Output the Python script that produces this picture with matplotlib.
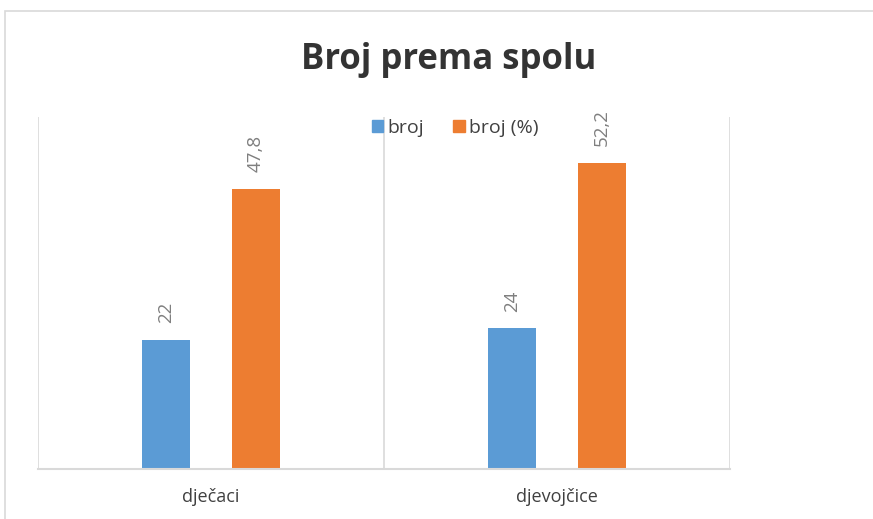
import matplotlib.pyplot as plt
from matplotlib.patches import Rectangle, Patch
import numpy as np

categories = ["dječaci", "djevojčice"]
broj = [22, 24]
broj_pct = [47.8, 52.2]
broj_labels = ["22", "24"]
pct_labels = ["47,8", "52,2"]
series_names = ["broj", "broj (%)"]

BLUE = "#5B9BD5"
ORANGE = "#ED7D31"
GRID = "#D9D9D9"
LABEL = "#7F7F7F"
TEXT = "#404040"

plt.rcParams["font.family"] = ["Open Sans", "DejaVu Sans"]

fig = plt.figure(figsize=(8.73, 5.19), dpi=100)
fig.patches.append(Rectangle((5 / 873, -0.1), 1.2, 1 - 11 / 519 + 0.1,
                             transform=fig.transFigure, fill=False,
                             edgecolor=GRID, linewidth=1.2))

ax = fig.add_axes([38 / 873, 1 - 469 / 519, (730 - 38) / 873, (469 - 117) / 519])

x = np.arange(len(categories))
w = 0.136
off = 0.13
b1 = ax.bar(x - off, broj, w, color=BLUE)
b2 = ax.bar(x + off, broj_pct, w, color=ORANGE)

for rects, labels in ((b1, broj_labels), (b2, pct_labels)):
    for r, lab in zip(rects, labels):
        ax.annotate(lab, (r.get_x() + r.get_width() / 2, r.get_height()),
                    xytext=(0, 12), textcoords="offset points",
                    rotation=90, ha="center", va="bottom",
                    fontsize=13.5, color=LABEL)

ax.set_xlim(-0.5, 1.5)
ax.set_ylim(0, 60)
ax.set_yticks([])
ax.set_xticks(x)
ax.set_xticklabels(categories, fontsize=13, color=TEXT)
ax.tick_params(axis="x", length=0, pad=14)
ax.set_xticks([-0.5, 0.5, 1.5], minor=True)
ax.tick_params(axis="x", which="minor", length=0)
ax.grid(True, which="minor", axis="x", color=GRID, linewidth=1.2)
for s in ("top", "left", "right"):
    ax.spines[s].set_visible(False)
ax.spines["bottom"].set_color(GRID)
ax.spines["bottom"].set_linewidth(1.5)
ax.set_axisbelow(True)

fig.text(449 / 873, 1 - 60 / 519, "Broj prema spolu", ha="center", va="center",
         fontsize=25, fontweight="bold", color="#333333")

handles = [Patch(color=BLUE), Patch(color=ORANGE)]
fig.legend(handles, series_names, loc="center", ncol=2,
           bbox_to_anchor=(455 / 873, 1 - 128 / 519), frameon=False,
           fontsize=14, handlelength=0.6, handleheight=0.6,
           handletextpad=0.2, columnspacing=1.5, labelcolor=TEXT)

fig.savefig("out.png", dpi=100)
